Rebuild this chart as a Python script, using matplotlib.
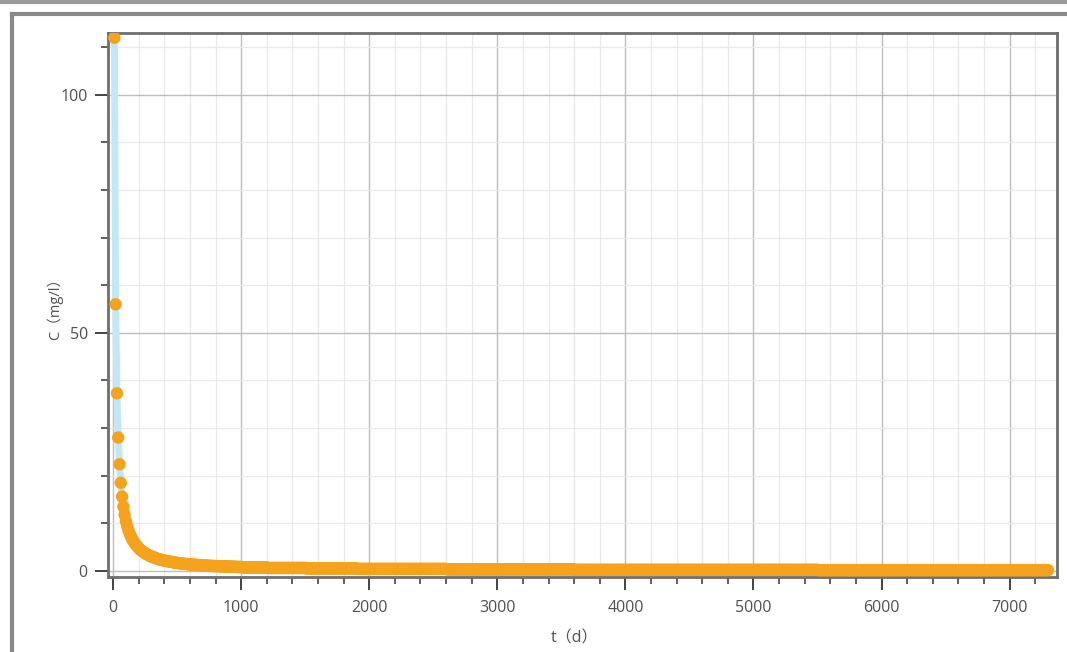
import numpy as np
import matplotlib
matplotlib.use("Agg")
import matplotlib.pyplot as plt
from matplotlib.lines import Line2D
from matplotlib.ticker import MultipleLocator

plt.rcParams['font.family'] = ['Open Sans', 'Noto Sans CJK SC', 'DejaVu Sans']

# time grid (days), one sample every 10 d up to 7300 d
t_days = np.arange(10, 7310, 10)

# concentration, first 100 samples (t = 10 .. 1000 d)
c_head = [
    112, 56, 37.3, 28, 22.4, 18.5, 15.6, 13.5, 11.8, 10.4,
    9.4, 8.5, 7.8, 7.2, 6.6, 6.2, 5.8, 5.4, 5.1, 4.8,
    4.5, 4.3, 4.1, 3.9, 3.7, 3.55, 3.4, 3.25, 3.1, 3.0,
    2.9, 2.8, 2.7, 2.6, 2.5, 2.4, 2.35, 2.3, 2.2, 2.15,
    2.1, 2.05, 2.0, 1.95, 1.9, 1.85, 1.8, 1.75, 1.7, 1.65,
    1.62, 1.59, 1.56, 1.53, 1.5, 1.47, 1.44, 1.41, 1.38, 1.35,
    1.33, 1.31, 1.29, 1.27, 1.25, 1.23, 1.21, 1.19, 1.17, 1.15,
    1.13, 1.11, 1.09, 1.07, 1.05, 1.04, 1.03, 1.02, 1.01, 1.0,
    0.99, 0.98, 0.97, 0.96, 0.95, 0.94, 0.93, 0.92, 0.91, 0.9,
    0.89, 0.88, 0.87, 0.86, 0.85, 0.84, 0.83, 0.82, 0.81, 0.8,
]
# tail (t > 1000 d) is a flat band near zero: levels and how many samples each
tail_levels = [0.7, 0.6, 0.5, 0.4, 0.3, 0.2, 0.15]
tail_counts = [20, 30, 40, 70, 100, 190, 180]

c_vals = np.concatenate([c_head, np.repeat(tail_levels, tail_counts)])

fig = plt.figure(figsize=(10.67, 6.52), dpi=100)
ax = fig.add_axes([0.1012, 0.115, 0.8894, 0.8344])

# line under the markers, then the markers
ax.plot(t_days, c_vals, color='#c2e7f6', lw=5, zorder=2)
ax.scatter(t_days, c_vals, s=80, color='#f5a31c', edgecolors='none', zorder=3)

ax.set_xlim(-40, 7370)
ax.set_ylim(-1.3, 113)
ax.xaxis.set_major_locator(MultipleLocator(1000))
ax.xaxis.set_minor_locator(MultipleLocator(200))
ax.yaxis.set_major_locator(MultipleLocator(50))
ax.yaxis.set_minor_locator(MultipleLocator(10))

ax.grid(which='major', color='#bdbdbd', lw=1.0, zorder=0)
ax.grid(which='minor', color='#e9e9e9', lw=0.9, zorder=0)
ax.set_axisbelow(True)

for s in ax.spines.values():
    s.set_color('#6e6e6e')
    s.set_linewidth(2)

ax.tick_params(which='major', length=9.5, width=1.4, color='#444444',
               labelsize=11.5, labelcolor='#505050', pad=5)
ax.tick_params(which='minor', length=5, width=1.2, color='#444444')
ax.tick_params(axis='x', which='major', pad=7)

ax.set_ylabel('C（mg/l）', fontsize=10.5, color='#505050')
ax.yaxis.set_label_coords(-0.047, 0.5)
ax.set_xlabel('t（d）', fontsize=11.5, color='#505050')
ax.xaxis.set_label_coords(0.492, -0.098)

# screenshot frame around the chart
fig.add_artist(Line2D([12 / 1067, 12 / 1067], [0, 1 - 14 / 652],
                      transform=fig.transFigure, color='#8a8a8a', lw=3))
fig.add_artist(Line2D([12 / 1067, 1], [1 - 14 / 652, 1 - 14 / 652],
                      transform=fig.transFigure, color='#8a8a8a', lw=3))
fig.add_artist(Line2D([0, 1], [1 - 1.5 / 652, 1 - 1.5 / 652],
                      transform=fig.transFigure, color='#9a9a9a', lw=3))

fig.savefig('out.png', dpi=100)
